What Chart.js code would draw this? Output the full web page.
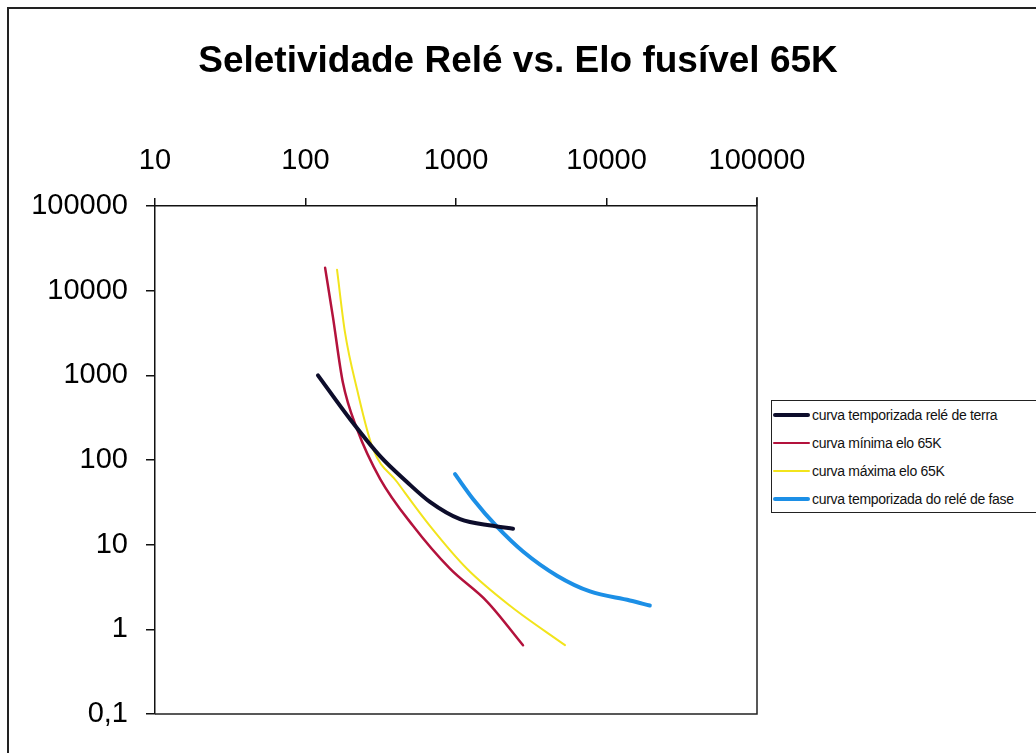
<!DOCTYPE html>
<html>
<head>
<meta charset="utf-8">
<script src="https://cdn.jsdelivr.net/npm/chart.js@4/dist/chart.umd.min.js"></script>
<style>
    body { margin: 0; background: #fff; }
    #wrap { position: relative; width: 1036px; height: 753px; overflow: hidden; }
    #legend {
        position: absolute; left: 771px; top: 400px; width: 270px; height: 113px;
        border: 1.5px solid #222; box-sizing: border-box; background: #fff;
        font-family: 'Liberation Sans', Arial, sans-serif; font-size: 14px; color: #111;
    }
    .row { display: flex; align-items: center; height: 28px; white-space: nowrap; letter-spacing: -0.3px; }
    .sw { width: 37px; margin: 0 2px 0 1px; border-radius: 2px; }
</style>
</head>
<body>
<div id="wrap">
    <canvas id="chart"></canvas>
    <div id="legend"></div>
</div>
<script>
// Seletividade relé x elo fusível 65K (corrente x tempo, log-log)

var xTicks = [10, 100, 1000, 10000, 100000];
var xTickLabels = ['10', '100', '1000', '10000', '100000'];
var yTicks = [0.1, 1, 10, 100, 1000, 10000, 100000];
var yTickLabels = ['0,1', '1', '10', '100', '1000', '10000', '100000'];

var seriesNames = [
    'curva temporizada relé de terra',
    'curva mínima elo 65K',
    'curva máxima elo 65K',
    'curva temporizada do relé de fase'
];

// curva relé de terra
var terraI = [121, 198, 313, 472, 671, 1064, 1763, 2394];
var terraT = [1000, 303, 111, 55, 32, 20, 16.7, 15.4];

// curva mínima elo 65K
var minI = [135, 152, 177, 220, 313, 518, 912, 1607, 2788];
var minT = [18600, 4940, 828, 232, 60, 16.7, 5.2, 2.13, 0.65];

// curva máxima elo 65K
var maxI = [162, 183, 220, 281, 406, 671, 1183, 2285, 5300];
var maxT = [17700, 3210, 684, 135, 55, 16.7, 5.2, 1.9, 0.65];

// curva relé de fase
var faseI = [985, 1297, 1872, 2788, 4690, 7770, 14300, 19400];
var faseT = [68, 34.7, 16.3, 8.3, 4.3, 2.8, 2.19, 1.91];

var colors = ['#0d0d2b', '#b3123c', '#f2e41c', '#1c8fe6'];
var widths = [4, 2.5, 2, 4];

function pairs(xs, ys) {
    return xs.map(function(x, i) { return { x: x, y: ys[i] }; });
}

var allData = [pairs(terraI, terraT), pairs(minI, minT), pairs(maxI, maxT), pairs(faseI, faseT)];

Chart.defaults.font.family = "'Liberation Sans', Arial, sans-serif";
Chart.defaults.color = '#000';

var framePlugin = {
    id: 'frame',
    afterDraw: function(chart) {
        var ctx = chart.ctx;
        var a = chart.chartArea;
        ctx.save();
        // caixa da área do gráfico (direita e base)
        ctx.strokeStyle = '#222';
        ctx.lineWidth = 1.5;
        ctx.beginPath();
        ctx.moveTo(a.right, a.top - 9);
        ctx.lineTo(a.right, a.bottom);
        ctx.lineTo(a.left, a.bottom);
        ctx.stroke();
        // moldura externa
        ctx.lineWidth = 2;
        ctx.beginPath();
        ctx.moveTo(8, chart.height);
        ctx.lineTo(8, 8);
        ctx.lineTo(chart.width, 8);
        ctx.stroke();
        ctx.restore();
    }
};

var chart = new Chart(document.getElementById('chart'), {
    type: 'scatter',
    data: {
        datasets: allData.map(function(d, i) {
            return {
                label: seriesNames[i],
                data: d,
                showLine: true,
                borderColor: colors[i],
                backgroundColor: colors[i],
                borderWidth: widths[i],
                pointRadius: 0,
                cubicInterpolationMode: 'monotone',
                borderCapStyle: 'round'
            };
        })
    },
    options: {
        responsive: true,
        maintainAspectRatio: false,
        animation: false,
        layout: { padding: { bottom: 39 } },
        plugins: {
            legend: { display: false },
            tooltip: { enabled: false },
            title: {
                display: true,
                text: 'Seletividade Relé vs. Elo fusível 65K',
                font: { size: 37, weight: 'bold' },
                color: '#000',
                padding: { top: 40, bottom: 10 }
            }
        },
        scales: {
            x: {
                type: 'logarithmic',
                position: 'top',
                min: 10,
                max: 100000,
                afterBuildTicks: function(s) {
                    s.ticks = xTicks.map(function(v) { return { value: v }; });
                },
                afterFit: function(s) { s.height = 111.6; },
                ticks: {
                    font: { size: 29 },
                    padding: 20,
                    maxRotation: 0,
                    autoSkip: false,
                    callback: function(v) {
                        var i = xTicks.indexOf(v);
                        return i >= 0 ? xTickLabels[i] : '';
                    }
                },
                grid: { drawOnChartArea: false, tickLength: 8, color: '#111', lineWidth: 1.5 },
                border: { display: true, color: '#111', width: 1.5 }
            },
            y: {
                type: 'logarithmic',
                position: 'left',
                min: 0.1,
                max: 100000,
                afterBuildTicks: function(s) {
                    s.ticks = yTicks.map(function(v) { return { value: v }; });
                },
                afterFit: function(s) { s.width = 155; },
                ticks: {
                    font: { size: 29 },
                    padding: 18,
                    autoSkip: false,
                    callback: function(v) {
                        var i = yTicks.indexOf(v);
                        return i >= 0 ? yTickLabels[i] : '';
                    }
                },
                grid: { drawOnChartArea: false, tickLength: 9, color: '#111', lineWidth: 1.5 },
                border: { display: true, color: '#111', width: 1.5 }
            },
            yRight: {
                type: 'linear',
                position: 'right',
                afterFit: function(s) { s.width = 279; },
                ticks: { display: false },
                grid: { display: false },
                border: { display: false }
            }
        }
    },
    plugins: [framePlugin]
});

// legenda
var legend = document.getElementById('legend');
legend.innerHTML = seriesNames.map(function(name, i) {
    return '<div class="row"><span class="sw" style="height:' + widths[i] + 'px;background:' + colors[i] + '"></span>' +
        '<span>' + name + '</span></div>';
}).join('');
</script>
</body>
</html>
